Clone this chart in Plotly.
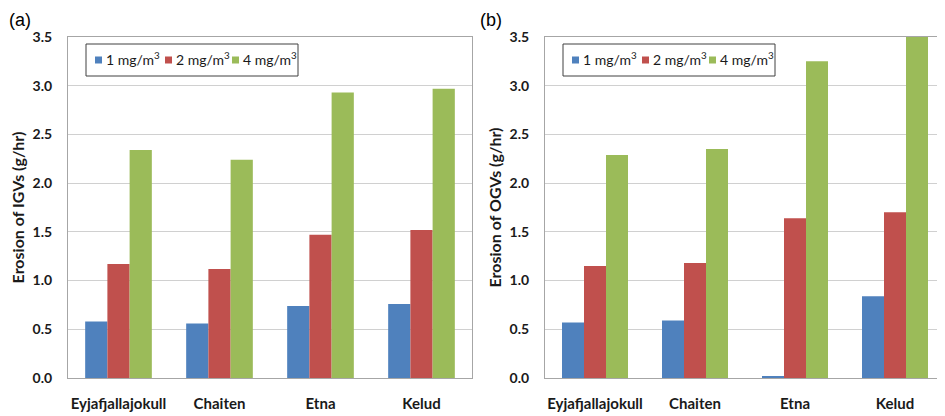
import plotly.graph_objects as go

categories = ["Eyjafjallajokull", "Chaiten", "Etna", "Kelud"]
series_names = ["1 mg/m<sup>3</sup>", "2 mg/m<sup>3</sup>", "4 mg/m<sup>3</sup>"]
colors = ["#4F81BD", "#C0504D", "#9BBB59"]

igv_1 = [0.58, 0.56, 0.74, 0.76]
igv_2 = [1.17, 1.12, 1.47, 1.52]
igv_4 = [2.34, 2.24, 2.93, 2.97]

ogv_1 = [0.57, 0.59, 0.02, 0.84]
ogv_2 = [1.15, 1.18, 1.64, 1.70]
ogv_4 = [2.29, 2.35, 3.25, 3.50]

y_ticks = [0.0, 0.5, 1.0, 1.5, 2.0, 2.5, 3.0, 3.5]
y_ticktext = ["0.0", "0.5", "1.0", "1.5", "2.0", "2.5", "3.0", "3.5"]

FONT = "Lato"
TXT = "#1a1a1a"
fig = go.Figure()

for vals, name, col in zip([igv_1, igv_2, igv_4], series_names, colors):
    fig.add_trace(go.Bar(x=categories, y=vals, name=name, marker_color=col,
                         marker_line_width=0, xaxis="x", yaxis="y", showlegend=False))
for vals, name, col in zip([ogv_1, ogv_2, ogv_4], series_names, colors):
    fig.add_trace(go.Bar(x=categories, y=vals, name=name, marker_color=col,
                         marker_line_width=0, xaxis="x2", yaxis="y2", showlegend=False))

# the page body has an 8px margin, so work in page pixels and shift by it
OFF = 8
W, H = 945 - OFF, 416 - OFF
L, R, T, B = 68 - OFF, 0, 37 - OFF, 416 - 378
pw = W - L - R
ph = H - T - B


def px(x):
    return (x - OFF - L) / pw


def py(y):
    return 1 - (y - OFF - T) / ph


dom_a = [0, px(472)]
dom_b = [px(545), 1]

axis_line = "#A6A6A6"
grid = "#D0D0D0"
tickfont = dict(family=FONT, size=14, color=TXT, weight="bold")

xcommon = dict(showline=True, linecolor=axis_line, linewidth=1, ticks="",
               tickfont=dict(family=FONT, size=15, color=TXT, weight="bold"),
               ticklabelstandoff=12, showgrid=False, mirror=True, fixedrange=True,
               automargin=False)
ycommon = dict(range=[0, 3.5], tickvals=y_ticks, ticktext=y_ticktext, showgrid=True,
               gridcolor=grid, gridwidth=1, showline=True, linecolor=axis_line,
               linewidth=1, ticks="", tickfont=tickfont, ticklabelstandoff=12,
               zeroline=False, fixedrange=True, automargin=False)

shapes = []
annotations = []

# hand-drawn legends (one per panel), Excel-style
for off in (0, 477):
    shapes.append(dict(type="rect", xref="paper", yref="paper",
                       x0=px(86 + off), x1=px(298 + off), y0=py(76), y1=py(44),
                       line=dict(color="#404040", width=1), fillcolor="white", layer="above"))
    sq_x = [95, 165, 232]
    for sx, col, name in zip(sq_x, colors, series_names):
        shapes.append(dict(type="rect", xref="paper", yref="paper",
                           x0=px(sx + off), x1=px(sx + 7 + off), y0=py(63.5), y1=py(56.5),
                           line=dict(width=0), fillcolor=col, layer="above"))
        annotations.append(dict(text=name, xref="paper", yref="paper",
                                x=px(sx + 9 + off), y=py(59), xanchor="left", yanchor="middle",
                                showarrow=False,
                                font=dict(family=FONT, size=14, color=TXT)))

annotations += [
    dict(text="(a)", xref="paper", yref="paper", x=px(7), y=py(8),
         xanchor="left", yanchor="top", showarrow=False,
         font=dict(family="Liberation Sans", size=18, color="black")),
    dict(text="(b)", xref="paper", yref="paper", x=px(478), y=py(8),
         xanchor="left", yanchor="top", showarrow=False,
         font=dict(family="Liberation Sans", size=18, color="black")),
]

fig.update_layout(
    width=W, height=H,
    margin=dict(l=L, r=R, t=T, b=B, autoexpand=False),
    paper_bgcolor="white", plot_bgcolor="white",
    barmode="group", bargap=0.34, bargroupgap=0,
    showlegend=False,
    xaxis=dict(domain=dom_a, anchor="y", **xcommon),
    yaxis=dict(domain=[0, 1], anchor="x", mirror=True,
               title=dict(text="Erosion of IGVs (g/hr)",
                          font=dict(family=FONT, size=16, color=TXT, weight="bold"),
                          standoff=4),
               **ycommon),
    xaxis2=dict(domain=dom_b, anchor="y2", **xcommon),
    yaxis2=dict(domain=[0, 1], anchor="x2", mirror=False,
                title=dict(text="Erosion of OGVs (g/hr)",
                           font=dict(family=FONT, size=16, color=TXT, weight="bold"),
                           standoff=4),
                **ycommon),
    shapes=shapes,
    annotations=annotations,
)

fig.write_html("out.html")
